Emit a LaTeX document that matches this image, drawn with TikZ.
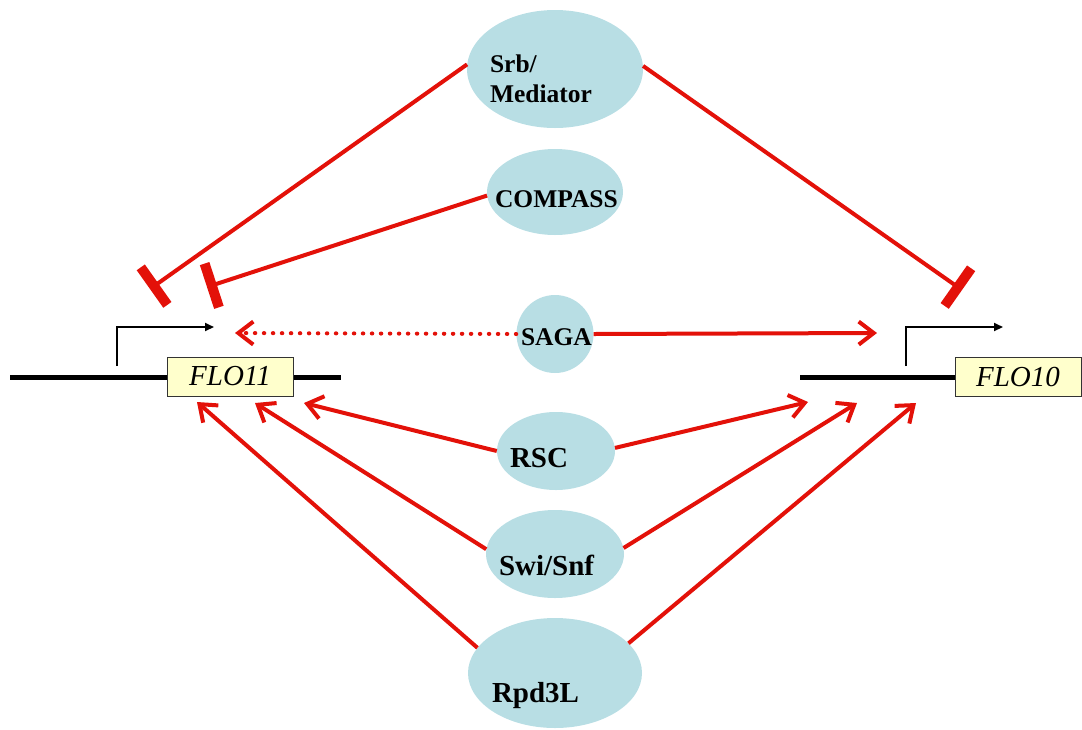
\documentclass[tikz,border=0pt]{standalone}
\usepackage{fontspec}
\setmainfont{Liberation Serif}
\usetikzlibrary{shapes.geometric,arrows.meta}
\definecolor{myred}{RGB}{227,17,9}
\definecolor{myblue}{RGB}{184,222,228}
\definecolor{myyellow}{RGB}{255,255,204}
\newcommand{\offtxt}[3]{\smash{\makebox[0pt][l]{\hspace*{#1}\raisebox{#2}{#3}}}}
\begin{document}
\begin{tikzpicture}[x=1pt,y=-1pt,
  blob/.style={ellipse,fill=myblue,draw=none,inner sep=0pt},
  smallfont/.style={font=\bfseries\fontsize{25.5}{30}\selectfont},
  bigfont/.style={font=\bfseries\fontsize{29}{34}\selectfont},
  act/.style={draw=myred,line width=4pt,-{Straight Barb[length=15pt,width=23pt]}},
  inh/.style={draw=myred,line width=4pt,-{Rectangle[length=10pt,width=46pt]}},
  geneline/.style={draw=black,line width=5pt},
  genebox/.style={draw=black!80,fill=myyellow,line width=0.8pt,minimum width=126pt,minimum height=39pt,inner sep=0pt,font=\fontsize{29}{32}\selectfont\itshape},
  prom/.style={draw=black,line width=2pt,-{Triangle[length=9pt,width=8pt]}}]

\useasboundingbox (0,0) rectangle (1082,729);

% genes
\coordinate (g11a) at (10,377);
\coordinate (g11b) at (341,377);
\draw[geneline] (g11a) -- (g11b);
\node[genebox] (flo11) at (230,376.5) {FLO11};
\coordinate (g10a) at (800,377);
\draw[geneline] (g10a) -- (955,377) coordinate (g10b);
\node[genebox] (flo10) at (1018,376.5) {FLO10};

% promoter arrows
\coordinate (p11a) at (117,366);
\coordinate (p11b) at (117,327);
\coordinate (p11c) at (214,327);
\draw[prom] (p11a) -- (p11b) -- (p11c);
\coordinate (p10a) at (906,366);
\coordinate (p10b) at (906,327);
\coordinate (p10c) at (1003,327);
\draw[prom] (p10a) -- (p10b) -- (p10c);

% factors
\node[blob,minimum width=176pt,minimum height=118pt,smallfont] (srb) at (555,69)
  {\offtxt{-65pt}{-3pt}{Srb/}\offtxt{-65pt}{-33pt}{Mediator}};
\node[blob,minimum width=136pt,minimum height=86pt,smallfont] (compass) at (555,192)
  {\offtxt{-60pt}{-15pt}{COMPASS}};
\node[blob,minimum width=77pt,minimum height=78pt,smallfont] (saga) at (555,334)
  {\offtxt{-34pt}{-11pt}{SAGA}};
\node[blob,minimum width=118pt,minimum height=78pt,bigfont] (rsc) at (556,451)
  {\offtxt{-46pt}{-16pt}{RSC}};
\node[blob,minimum width=138pt,minimum height=88pt,bigfont] (swi) at (555,554)
  {\offtxt{-56pt}{-21pt}{Swi/Snf}};
\node[blob,minimum width=174pt,minimum height=110pt,bigfont] (rpd) at (555,673)
  {\offtxt{-63pt}{-29pt}{Rpd3L}};

% inhibition targets
\coordinate (barL) at (150,289);
\coordinate (barC) at (207,287);
\coordinate (barR) at (962,290);
\draw[inh] (srb.177) -- (barL);
\draw[inh] (compass.183) -- (barC);
\draw[inh] (srb.2) -- (barR);

% SAGA
\coordinate (sagaL) at (235,333);
\coordinate (sagaR) at (877,333);
\draw[act,line cap=round,dash pattern=on 0.5pt off 8.5pt] (saga.west) -- (sagaL);
\draw[act] (saga.east) -- (sagaR);

% activation targets
\coordinate (rscL) at (304,403);
\coordinate (swiL) at (255,403);
\coordinate (rpdL) at (197,402);
\coordinate (rscR) at (808,402);
\coordinate (swiR) at (857,403);
\coordinate (rpdR) at (916,403);
\draw[act] (rsc.west) -- (rscL);
\draw[act] (rsc.3) -- (rscR);
\draw[act] (swi.176) -- (swiL);
\draw[act] (swi.5) -- (swiR);
\draw[act] (rpd.162) -- (rpdL);
\draw[act] (rpd.22) -- (rpdR);
\end{tikzpicture}
\end{document}
